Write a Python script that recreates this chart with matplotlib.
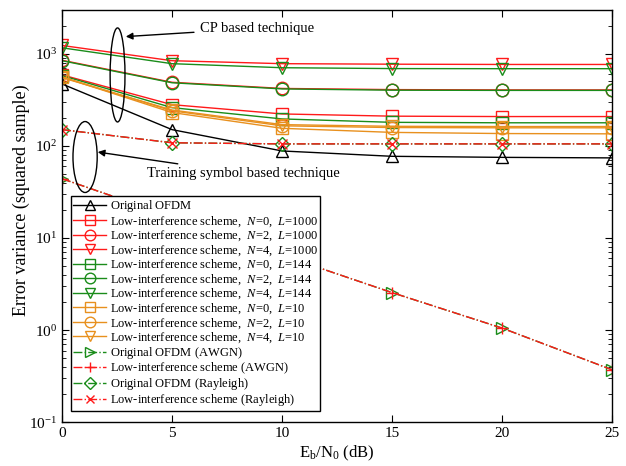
import numpy as np
import matplotlib
matplotlib.use('Agg')
from matplotlib import pyplot as plt
from matplotlib.patches import Ellipse

plt.rcParams['font.family'] = ['Liberation Serif', 'DejaVu Serif']
plt.rcParams['mathtext.fontset'] = 'custom'
plt.rcParams['mathtext.rm'] = 'Liberation Serif'
plt.rcParams['mathtext.it'] = 'Liberation Serif:italic'
plt.rcParams['font.size'] = 10

snr = [0, 5, 10, 15, 20, 25]

orig_ofdm = [470, 150, 88, 77, 75, 74]

red_n0 = [590, 280, 222, 210, 208, 208]
red_n2 = [850, 490, 420, 408, 405, 405]
red_n4 = [1230, 840, 780, 770, 765, 765]

green_n0 = [580, 260, 196, 180, 178, 178]
green_n2 = [840, 484, 415, 402, 400, 400]
green_n4 = [1160, 780, 705, 690, 688, 688]

orange_n0 = [560, 230, 155, 140, 136, 135]
orange_n2 = [560, 240, 165, 158, 157, 157]
orange_n4 = [550, 245, 170, 163, 162, 162]

awgn_orig = [44, 17, 6.5, 2.55, 1.05, 0.37]
awgn_li = [44, 17, 6.5, 2.55, 1.05, 0.37]
ray_orig = [150, 108, 105, 105, 105, 105]
ray_li = [150, 108, 105, 105, 105, 105]

RED = '#ff1a1a'
GREEN = '#1a8c1a'
ORANGE = '#e8901e'

fig, ax = plt.subplots(figsize=(6.26, 4.66), dpi=100)
fig.subplots_adjust(left=0.099, right=0.978, bottom=0.094, top=0.979)

ms = 9
kw = dict(lw=1, markersize=ms, markerfacecolor='none', markeredgewidth=1)
pad = r'$\,$'  # keeps legend rows the same height as the ones with math

ax.plot(snr, orig_ofdm, color='k', marker='^', label='Original OFDM' + pad, **kw)
ax.plot(snr, red_n0, color=RED, marker='s', label=r'Low-interference scheme,  $N$=0,  $L$=1000', **kw)
ax.plot(snr, red_n2, color=RED, marker='o', label=r'Low-interference scheme,  $N$=2,  $L$=1000', **kw)
ax.plot(snr, red_n4, color=RED, marker='v', label=r'Low-interference scheme,  $N$=4,  $L$=1000', **kw)
ax.plot(snr, green_n0, color=GREEN, marker='s', label=r'Low-interference scheme,  $N$=0,  $L$=144', **kw)
ax.plot(snr, green_n2, color=GREEN, marker='o', label=r'Low-interference scheme,  $N$=2,  $L$=144', **kw)
ax.plot(snr, green_n4, color=GREEN, marker='v', label=r'Low-interference scheme,  $N$=4,  $L$=144', **kw)
ax.plot(snr, orange_n0, color=ORANGE, marker='s', label=r'Low-interference scheme,  $N$=0,  $L$=10', **kw)
ax.plot(snr, orange_n2, color=ORANGE, marker='o', label=r'Low-interference scheme,  $N$=2,  $L$=10', **kw)
ax.plot(snr, orange_n4, color=ORANGE, marker='v', label=r'Low-interference scheme,  $N$=4,  $L$=10', **kw)
ax.plot(snr, awgn_orig, color=GREEN, ls='-.', marker='>', label='Original OFDM (AWGN)' + pad, **kw)
ax.plot(snr, awgn_li, color=RED, ls='-.', marker='+', label='Low-interference scheme (AWGN)' + pad, **kw)
ax.plot(snr, ray_orig, color=GREEN, ls='-.', marker='D', label='Original OFDM (Rayleigh)' + pad,
        lw=1, markersize=7, markerfacecolor='none', markeredgewidth=1)
ax.plot(snr, ray_li, color=RED, ls='-.', marker='x', label='Low-interference scheme (Rayleigh)' + pad,
        lw=1, markersize=7, markeredgewidth=1)

ax.set_yscale('log')
ax.set_xlim(0, 25)
ax.set_ylim(0.1, 3000)
ax.set_xticks([0, 5, 10, 15, 20, 25])
ax.tick_params(which='both', direction='in', top=True, right=True, labelsize=11)
ax.tick_params(which='major', length=5)
ax.tick_params(which='minor', length=3)
for s in ax.spines.values():
    s.set_linewidth(1)

ax.set_xlabel(r'E$_\mathrm{b}$/N$_0$ (dB)', fontsize=12, labelpad=3)
ax.set_ylabel('Error variance (squared sample)', fontsize=13)
ax.yaxis.set_label_coords(-0.058, 0.539)

leg = ax.legend(loc='lower left', bbox_to_anchor=(0.005, 0.012), fontsize=9,
                labelspacing=0.0, handlelength=2.6, handletextpad=0.3, markerscale=0.85,
                borderpad=0.2, fancybox=False, framealpha=1, edgecolor='k')
leg.get_frame().set_linewidth(1)

# annotation ellipses and arrows
ax.add_patch(Ellipse((0.101, 0.842), 0.027, 0.228, transform=ax.transAxes,
                     fill=False, ec='k', lw=1, zorder=5))
ax.add_patch(Ellipse((0.042, 0.643), 0.044, 0.172, transform=ax.transAxes,
                     fill=False, ec='k', lw=1, zorder=5))
ax.annotate('CP based technique', xy=(0.116, 0.935), xycoords='axes fraction',
            xytext=(0.25, 0.955), textcoords='axes fraction', fontsize=10.5,
            va='center', ha='left',
            arrowprops=dict(arrowstyle='-|>', color='k', lw=1, shrinkA=2, shrinkB=0,
                            mutation_scale=10))
ax.annotate('Training symbol based technique', xy=(0.065, 0.655), xycoords='axes fraction',
            xytext=(0.155, 0.603), textcoords='axes fraction', fontsize=10.5,
            va='center', ha='left',
            arrowprops=dict(arrowstyle='-|>', color='k', lw=1, shrinkA=2, shrinkB=0,
                            mutation_scale=10))

fig.savefig('out.png', dpi=100)
